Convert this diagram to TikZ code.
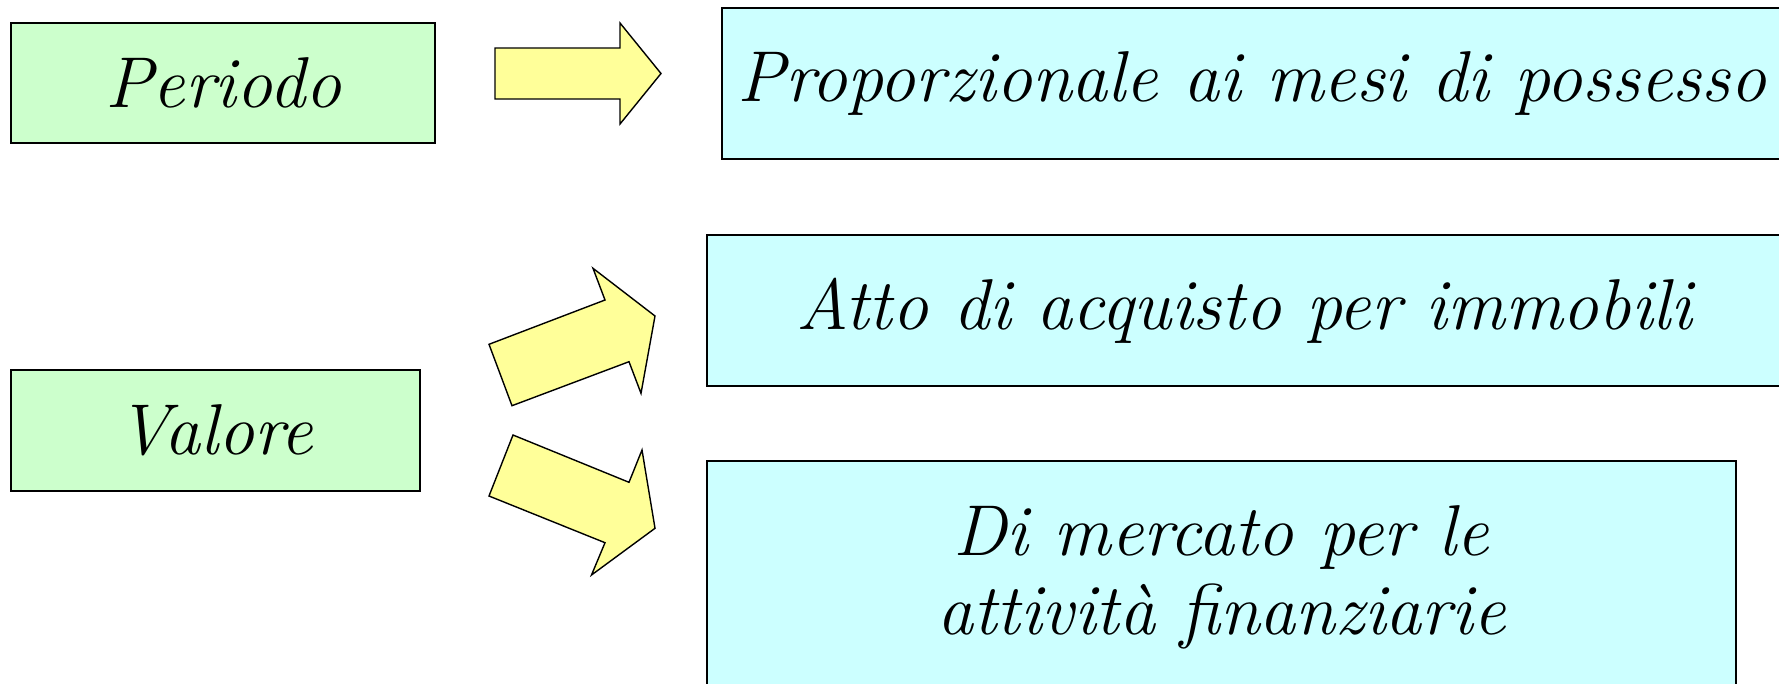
\documentclass[tikz,border=0pt]{standalone}
\usepackage{fontspec}
\setmainfont{Latin Modern Roman}
\definecolor{boxgreen}{HTML}{CCFFCC}
\definecolor{boxcyan}{HTML}{CCFFFF}
\definecolor{arrowyellow}{HTML}{FFFF99}
\begin{document}
\begin{tikzpicture}[x=1pt,y=-1pt,
  every node/.style={font=\fontsize{72}{79}\selectfont\itshape},
  greenbox/.style={draw=black, fill=boxgreen, line width=1.6pt, inner sep=0pt},
  cyanbox/.style={draw=black, fill=boxcyan, line width=1.6pt, inner sep=0pt, align=center},
  blockarrow/.style={draw=black, fill=arrowyellow, line width=1.4pt, line join=miter}]
\useasboundingbox (0,0) rectangle (1779,683);
\clip (0,0) rectangle (1779,683);
% left boxes
\node[greenbox, minimum width=424pt, minimum height=120pt] (periodo) at (223,83) {Periodo};
\node[greenbox, minimum width=409pt, minimum height=121pt] (valore) at (215.5,430.5) {Valore};
% right boxes
\node[cyanbox, minimum width=1060pt, minimum height=151pt] (prop) at (1252,83.5) {Proporzionale ai mesi di possesso};
\node[cyanbox, minimum width=1075pt, minimum height=151pt] (atto) at (1244.5,310.5) {Atto di acquisto per immobili};
\node[cyanbox, minimum width=1029pt, minimum height=232pt] (merc) at (1221.5,577) {Di mercato per le\\attività finanziarie};
% block arrows
\draw[blockarrow] (495,48) -- (620,48) -- (620,23) -- (661,73.5) -- (620,124) -- (620,99) -- (495,99) -- cycle;
\draw[blockarrow] (512,405.7) -- (489,344.3) -- (605,300) -- (593,268.3) -- (655,316) -- (641,393.3) -- (629,361.7) -- cycle;
\draw[blockarrow] (513,435) -- (629,482.3) -- (642,450) -- (655,528.3) -- (591.5,575) -- (605,542.7) -- (489,496) -- cycle;
\end{tikzpicture}
\end{document}
